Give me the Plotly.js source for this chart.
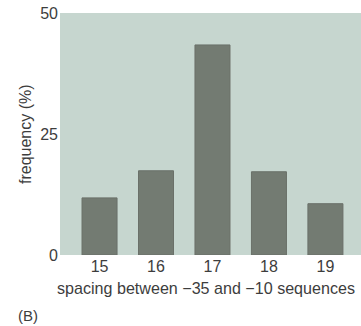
<!DOCTYPE html>
<html>
<head>
<meta charset="utf-8">
<script src="https://cdn.plot.ly/plotly-3.0.1.min.js"></script>
<style>html,body{margin:0;padding:0;background:#fff;}#chart{width:361px;height:326px;}</style>
</head>
<body>
<div id="chart"></div>
<script>
const spacings = [15, 16, 17, 18, 19];
const frequencies = [11.8, 17.4, 43.4, 17.2, 10.6];
const yTickValues = [0, 25, 50];
const xAxisTitle = "spacing between \u221235 and \u221210 sequences";
const yAxisTitle = "frequency (%)";
const panelLabel = "(B)";

const fontFam = "Liberation Sans, Arial, sans-serif";
const txt = "#3d3d3d";
Plotly.newPlot("chart", [{
  type: "bar",
  x: spacings,
  y: frequencies,
  width: 0.62,
  marker: {color: "#737b72", line: {color: "#6a7069", width: 1}},
  hoverinfo: "none"
}], {
  width: 361, height: 326,
  margin: {l: 60, r: 0, t: 13, b: 71},
  paper_bgcolor: "#ffffff",
  plot_bgcolor: "#c6d6cf",
  showlegend: false,
  font: {family: fontFam, color: txt, size: 16},
  xaxis: {
    range: [14.3, 19.63],
    tickvals: spacings,
    ticks: "", showgrid: false, zeroline: false, showline: false,
    tickfont: {size: 16, color: txt},
    ticklabelstandoff: 0
  },
  yaxis: {
    range: [0, 50],
    tickvals: yTickValues,
    ticks: "", showgrid: false, zeroline: false, showline: false,
    tickfont: {size: 16, color: txt},
    ticklabelstandoff: 1
  },
  annotations: [
    {text: yAxisTitle, xref: "paper", yref: "paper", x: -0.1163, y: 0.5,
     xanchor: "center", yanchor: "middle", textangle: -90, showarrow: false,
     font: {size: 16, color: txt}},
    {text: xAxisTitle, xref: "paper", yref: "paper", x: -0.016, y: -0.136,
     xanchor: "left", yanchor: "middle", showarrow: false,
     font: {size: 16.1, color: txt}},
    {text: panelLabel, xref: "paper", yref: "paper", x: -0.106, y: -0.248,
     xanchor: "center", yanchor: "middle", showarrow: false,
     font: {size: 15, color: txt}}
  ]
}, {staticPlot: true, displayModeBar: false});
</script>
</body>
</html>
